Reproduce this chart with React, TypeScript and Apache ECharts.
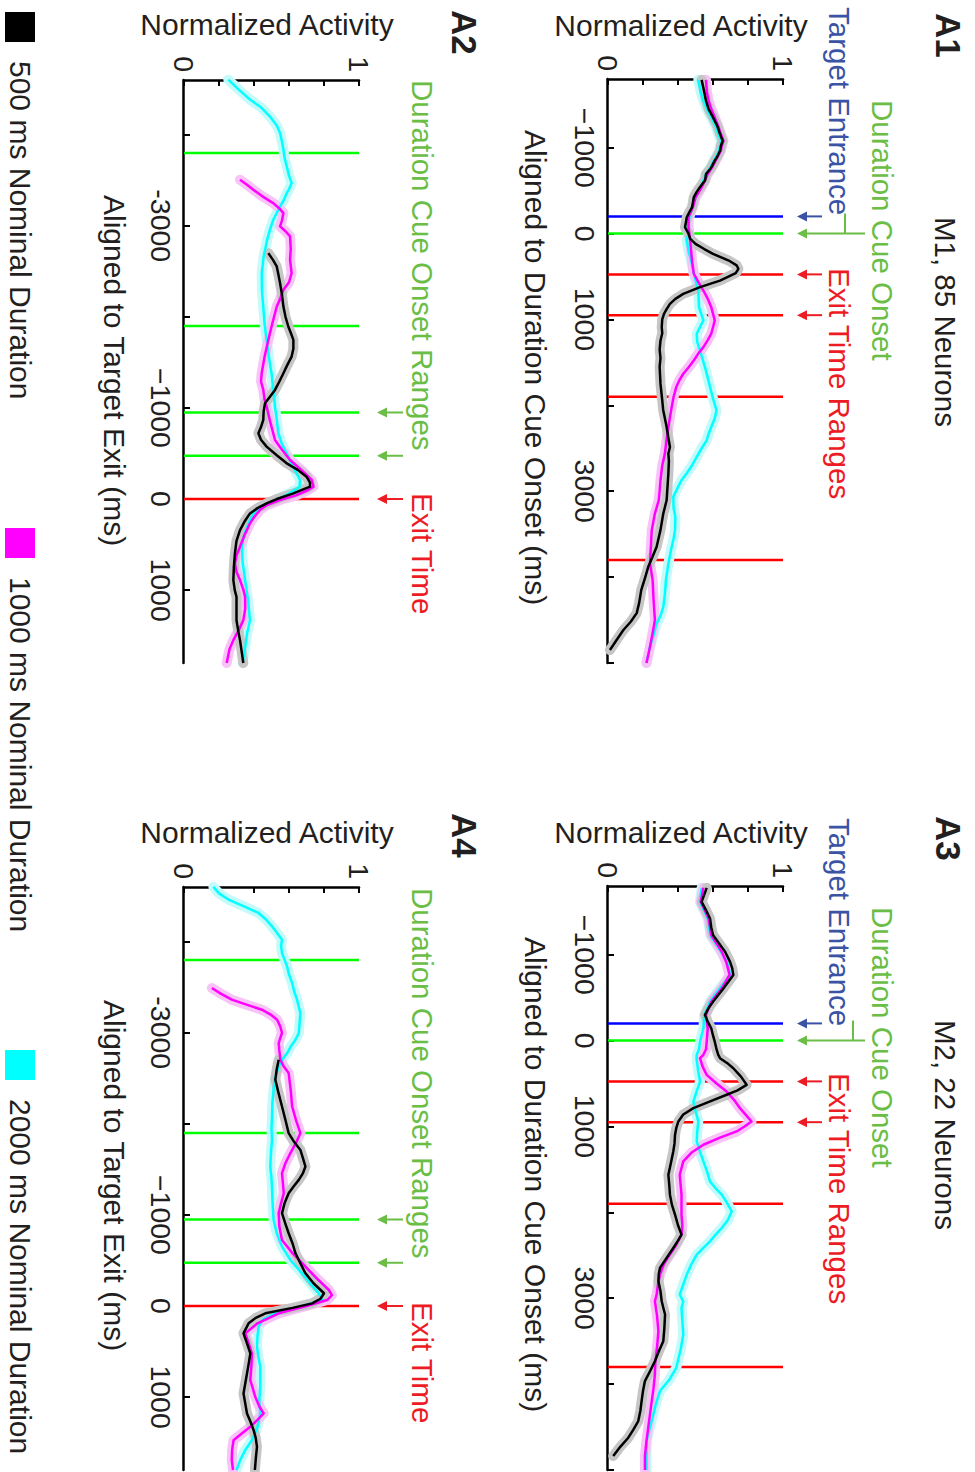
import React, { useEffect, useRef } from 'react';
import * as echarts from 'echarts';

type P = [number, number][];

// ---------- data ----------
const SERIES_NAMES = ['500 ms Nominal Duration', '1000 ms Nominal Duration', '2000 ms Nominal Duration'];

const CUE_TICKS = [-1000, 0, 1000, 2000, 3000, 4000, 5000];
const CUE_LABELS = [-1000, 0, 1000, 3000];
const EXIT_TICKS = [-4000, -3000, -2000, -1000, 0, 1000];
const EXIT_LABELS = [-3000, -1000, 0, 1000];
const ACTIVITY_TICKS_LABELS = [0, 1];

const TARGET_ENTRANCE = [-200];
const CUE_ONSET = [0];
const EXIT_RANGES = [475, 950, 1900, 3800];
const CUE_ONSET_RANGES = [-3800, -1900, -950, -475];
const CUE_ONSET_ARROWS = [-950, -475];
const EXIT_TIME = [0];

const A1_BLACK: P = [[-1790,0.535],[-1650,0.55],[-1547,0.56],[-1450,0.575],[-1353,0.6],[-1250,0.625],[-1159,0.64],[-1081,0.655],[-1020,0.645],[-965,0.64],[-900,0.625],[-849,0.61],[-771,0.59],[-730,0.575],[-694,0.56],[-620,0.555],[-539,0.525],[-480,0.505],[-422,0.49],[-360,0.485],[-306,0.48],[-250,0.465],[-190,0.45],[-130,0.445],[-74,0.44],[0,0.46],[62,0.47],[120,0.5],[180,0.55],[236,0.6],[314,0.69],[370,0.735],[410,0.745],[460,0.73],[547,0.64],[624,0.526],[702,0.43],[760,0.385],[818,0.354],[880,0.335],[934,0.32],[1000,0.31],[1089,0.307],[1160,0.31],[1244,0.3],[1350,0.295],[1450,0.3],[1550,0.295],[1632,0.297],[1750,0.3],[1850,0.305],[1942,0.31],[2050,0.315],[2150,0.325],[2252,0.335],[2380,0.345],[2484,0.354],[2560,0.345],[2650,0.348],[2791,0.345],[2950,0.34],[3105,0.335],[3260,0.316],[3450,0.3],[3647,0.278],[3760,0.255],[3880,0.23],[4020,0.21],[4151,0.19],[4300,0.178],[4419,0.164],[4520,0.13],[4616,0.088],[4730,0.05],[4849,0.011]];
const A1_MAGENTA: P = [[-1790,0.56],[-1650,0.565],[-1547,0.575],[-1450,0.59],[-1353,0.61],[-1250,0.63],[-1159,0.645],[-1081,0.66],[-1020,0.65],[-965,0.645],[-849,0.615],[-771,0.595],[-694,0.57],[-600,0.55],[-539,0.535],[-422,0.5],[-306,0.485],[-190,0.46],[-74,0.46],[0,0.465],[81,0.47],[200,0.475],[314,0.48],[465,0.49],[560,0.515],[663,0.545],[760,0.57],[857,0.59],[1011,0.61],[1090,0.6],[1166,0.59],[1240,0.57],[1322,0.545],[1400,0.515],[1477,0.49],[1560,0.46],[1632,0.43],[1700,0.41],[1787,0.39],[1900,0.375],[2020,0.364],[2130,0.355],[2252,0.345],[2400,0.335],[2562,0.325],[2700,0.31],[2872,0.3],[3000,0.295],[3105,0.29],[3260,0.268],[3453,0.25],[3650,0.245],[3840,0.24],[4035,0.255],[4250,0.26],[4500,0.268],[4650,0.255],[4810,0.24],[5000,0.22]];
const A1_CYAN: P = [[-1790,0.516],[-1650,0.53],[-1547,0.545],[-1450,0.565],[-1353,0.59],[-1250,0.615],[-1159,0.63],[-1081,0.645],[-965,0.635],[-849,0.605],[-771,0.585],[-694,0.56],[-539,0.53],[-422,0.5],[-306,0.48],[-190,0.465],[-74,0.455],[0,0.46],[81,0.45],[200,0.46],[314,0.475],[465,0.49],[663,0.516],[857,0.52],[1011,0.545],[1090,0.525],[1166,0.507],[1260,0.51],[1360,0.526],[1460,0.54],[1554,0.554],[1680,0.57],[1787,0.583],[1920,0.6],[2058,0.62],[2150,0.61],[2252,0.59],[2330,0.575],[2407,0.564],[2500,0.535],[2601,0.507],[2700,0.48],[2791,0.45],[2872,0.42],[2950,0.4],[3066,0.373],[3200,0.375],[3300,0.385],[3453,0.383],[3550,0.375],[3647,0.364],[3740,0.355],[3840,0.345],[4035,0.331],[4200,0.325],[4345,0.316],[4450,0.3],[4539,0.278],[4680,0.26],[4810,0.24],[5000,0.22]];

const A2_BLACK: P = [[-2700,0.482],[-2620,0.51],[-2553,0.53],[-2460,0.54],[-2370,0.549],[-2240,0.56],[-2113,0.568],[-2000,0.58],[-1894,0.596],[-1800,0.615],[-1747,0.625],[-1650,0.625],[-1564,0.615],[-1470,0.59],[-1381,0.568],[-1290,0.545],[-1198,0.52],[-1120,0.49],[-1051,0.463],[-960,0.455],[-868,0.453],[-790,0.44],[-722,0.425],[-650,0.44],[-575,0.472],[-480,0.53],[-392,0.587],[-320,0.65],[-245,0.7],[-180,0.72],[-136,0.72],[-62,0.625],[0,0.53],[48,0.472],[100,0.42],[158,0.377],[250,0.345],[341,0.32],[460,0.3],[597,0.291],[744,0.285],[890,0.282],[1000,0.29],[1074,0.3],[1200,0.3],[1330,0.3],[1450,0.31],[1549,0.32],[1680,0.33],[1800,0.339]];
const A2_MAGENTA: P = [[-3505,0.32],[-3450,0.36],[-3396,0.396],[-3320,0.45],[-3249,0.51],[-3190,0.545],[-3139,0.568],[-3060,0.56],[-2993,0.549],[-2940,0.58],[-2883,0.606],[-2750,0.61],[-2626,0.606],[-2480,0.615],[-2380,0.6],[-2297,0.568],[-2200,0.55],[-2113,0.53],[-1930,0.505],[-1747,0.482],[-1560,0.46],[-1381,0.444],[-1290,0.44],[-1198,0.453],[-1100,0.46],[-1015,0.472],[-830,0.495],[-648,0.52],[-540,0.56],[-429,0.606],[-320,0.67],[-209,0.73],[-136,0.74],[-99,0.71],[-40,0.64],[11,0.549],[70,0.47],[121,0.434],[200,0.4],[267,0.377],[400,0.345],[524,0.32],[620,0.3],[707,0.291],[800,0.3],[890,0.32],[1000,0.34],[1074,0.349],[1200,0.35],[1330,0.339],[1450,0.31],[1549,0.282],[1650,0.26],[1800,0.244]];
const A2_CYAN: P = [[-4604,0.253],[-4500,0.31],[-4385,0.377],[-4300,0.44],[-4201,0.49],[-4100,0.53],[-4018,0.549],[-3920,0.56],[-3835,0.568],[-3740,0.575],[-3652,0.587],[-3550,0.6],[-3469,0.615],[-3400,0.6],[-3359,0.587],[-3280,0.57],[-3212,0.549],[-3140,0.53],[-3066,0.51],[-2950,0.49],[-2846,0.475],[-2750,0.465],[-2663,0.455],[-2570,0.45],[-2480,0.444],[-2300,0.445],[-2113,0.453],[-1930,0.46],[-1747,0.472],[-1560,0.485],[-1381,0.5],[-1200,0.51],[-1015,0.52],[-870,0.53],[-722,0.539],[-600,0.56],[-465,0.596],[-330,0.63],[-209,0.663],[-130,0.66],[-62,0.6],[11,0.53],[84,0.434],[150,0.4],[231,0.377],[380,0.345],[524,0.33],[700,0.335],[890,0.349],[1100,0.365],[1330,0.377],[1480,0.36],[1623,0.35],[1800,0.335]];

const A3_BLACK: P = [[-1779,0.564],[-1700,0.55],[-1616,0.535],[-1520,0.56],[-1422,0.583],[-1320,0.59],[-1229,0.6],[-1130,0.635],[-1035,0.669],[-919,0.697],[-840,0.71],[-764,0.716],[-690,0.69],[-608,0.66],[-530,0.63],[-453,0.6],[-380,0.575],[-299,0.554],[-220,0.57],[-143,0.59],[-60,0.6],[12,0.61],[100,0.62],[166,0.63],[205,0.64],[260,0.68],[322,0.716],[420,0.76],[515,0.792],[580,0.74],[631,0.678],[710,0.58],[787,0.488],[860,0.43],[942,0.402],[1020,0.39],[1097,0.383],[1200,0.38],[1291,0.373],[1420,0.36],[1562,0.345],[1680,0.35],[1794,0.354],[1910,0.365],[2027,0.383],[2150,0.4],[2260,0.42],[2330,0.4],[2415,0.373],[2530,0.335],[2647,0.297],[2720,0.29],[2802,0.288],[2920,0.3],[3035,0.307],[3110,0.316],[3190,0.326],[3350,0.322],[3500,0.316],[3620,0.29],[3733,0.268],[3850,0.24],[3965,0.211],[4080,0.2],[4198,0.192],[4310,0.185],[4430,0.173],[4530,0.145],[4624,0.116],[4730,0.07],[4837,0.03]];
const A3_MAGENTA: P = [[-1779,0.545],[-1616,0.53],[-1422,0.575],[-1229,0.59],[-1035,0.65],[-919,0.675],[-764,0.695],[-608,0.65],[-453,0.59],[-299,0.56],[-143,0.57],[12,0.564],[100,0.56],[166,0.545],[205,0.526],[300,0.54],[399,0.564],[500,0.62],[593,0.678],[690,0.72],[787,0.754],[870,0.79],[942,0.82],[1000,0.78],[1058,0.735],[1130,0.64],[1213,0.545],[1300,0.48],[1407,0.43],[1562,0.41],[1680,0.415],[1794,0.42],[1910,0.42],[2027,0.42],[2150,0.425],[2260,0.42],[2380,0.39],[2492,0.354],[2600,0.32],[2725,0.297],[2850,0.285],[2957,0.278],[3035,0.268],[3200,0.28],[3384,0.288],[3578,0.28],[3750,0.27],[3888,0.268],[4050,0.26],[4198,0.25],[4350,0.24],[4500,0.23],[4660,0.22],[4837,0.211],[5000,0.211]];
const A3_CYAN: P = [[-1779,0.535],[-1616,0.525],[-1422,0.57],[-1229,0.585],[-1035,0.645],[-919,0.68],[-764,0.7],[-608,0.64],[-453,0.583],[-299,0.55],[-143,0.545],[12,0.526],[100,0.52],[166,0.507],[228,0.507],[350,0.515],[477,0.526],[600,0.505],[709,0.488],[820,0.5],[942,0.516],[1058,0.51],[1174,0.507],[1290,0.525],[1407,0.545],[1520,0.565],[1640,0.583],[1720,0.615],[1794,0.65],[1890,0.68],[1988,0.707],[2090,0.685],[2182,0.65],[2260,0.615],[2337,0.583],[2415,0.545],[2492,0.507],[2610,0.475],[2725,0.45],[2840,0.43],[2957,0.41],[3040,0.43],[3112,0.42],[3270,0.425],[3422,0.43],[3600,0.415],[3810,0.39],[3950,0.35],[4081,0.297],[4220,0.275],[4353,0.259],[4500,0.24],[4663,0.22],[4837,0.22],[5000,0.22]];

const A4_BLACK: P = [[-2703,0.541],[-2600,0.53],[-2484,0.522],[-2340,0.54],[-2190,0.56],[-2040,0.58],[-1898,0.598],[-1800,0.63],[-1714,0.665],[-1620,0.68],[-1531,0.694],[-1460,0.68],[-1385,0.656],[-1310,0.625],[-1238,0.598],[-1130,0.575],[-1019,0.56],[-900,0.58],[-799,0.598],[-690,0.62],[-579,0.637],[-470,0.665],[-359,0.694],[-250,0.74],[-140,0.8],[-80,0.78],[-29,0.732],[20,0.62],[80,0.465],[130,0.41],[190,0.369],[300,0.34],[410,0.36],[520,0.379],[630,0.37],[740,0.36],[850,0.35],[960,0.34],[1070,0.35],[1179,0.36],[1270,0.38],[1363,0.398],[1450,0.41],[1546,0.417],[1680,0.41],[1800,0.405]];
const A4_MAGENTA: P = [[-3491,0.159],[-3430,0.21],[-3363,0.273],[-3300,0.37],[-3253,0.445],[-3200,0.495],[-3143,0.532],[-3070,0.55],[-2997,0.56],[-2940,0.55],[-2887,0.541],[-2800,0.545],[-2703,0.551],[-2630,0.57],[-2557,0.598],[-2370,0.61],[-2190,0.618],[-2040,0.64],[-1898,0.665],[-1790,0.64],[-1678,0.608],[-1570,0.58],[-1458,0.56],[-1350,0.565],[-1238,0.57],[-1130,0.555],[-1019,0.541],[-870,0.545],[-725,0.56],[-580,0.62],[-432,0.694],[-300,0.76],[-176,0.828],[-120,0.845],[-66,0.818],[0,0.7],[80,0.541],[190,0.42],[300,0.35],[410,0.37],[520,0.388],[660,0.385],[813,0.379],[996,0.407],[1100,0.43],[1179,0.455],[1250,0.42],[1326,0.379],[1400,0.33],[1473,0.283],[1580,0.275],[1692,0.273],[1800,0.28]];
const A4_CYAN: P = [[-4601,0.168],[-4530,0.2],[-4462,0.254],[-4390,0.34],[-4315,0.426],[-4240,0.47],[-4168,0.503],[-4100,0.53],[-4022,0.56],[-3950,0.555],[-3876,0.56],[-3800,0.575],[-3729,0.589],[-3640,0.6],[-3546,0.618],[-3450,0.63],[-3363,0.646],[-3290,0.655],[-3216,0.665],[-3100,0.66],[-2997,0.656],[-2923,0.637],[-2850,0.61],[-2777,0.589],[-2700,0.56],[-2630,0.541],[-2500,0.52],[-2374,0.512],[-2230,0.505],[-2081,0.503],[-1950,0.5],[-1824,0.503],[-1680,0.497],[-1531,0.493],[-1400,0.5],[-1275,0.503],[-1100,0.507],[-945,0.512],[-800,0.53],[-652,0.56],[-500,0.61],[-359,0.675],[-250,0.72],[-140,0.77],[-66,0.79],[0,0.68],[80,0.522],[150,0.45],[227,0.426],[330,0.42],[447,0.417],[560,0.425],[667,0.436],[886,0.436],[1050,0.43],[1179,0.436],[1330,0.42],[1473,0.388],[1580,0.35],[1692,0.321],[1800,0.3]];

// ---------- styling / layout ----------
const FONT = 'Liberation Sans, Arial, Helvetica, sans-serif';
const INK = '#231f20';
const LINE_COLORS = ['#000000', '#ff00ff', '#00ffff'];
const HALO_COLORS = ['#c6c6c6', '#f8c4f8', '#c4fafa'];
const EV_BLUE = '#0000ff', EV_GREEN = '#00ff00', EV_RED = '#ff0000';
const TX_BLUE = '#3a53a4', TX_GREEN = '#6abd45', TX_RED = '#ed1c24';

const minusFmt = (v: number) => (v < 0 ? '\u2212' + Math.abs(v) : String(v));
const exitFmt = (v: number) => (v === -3000 ? '-3000' : v < 0 ? '\u2212' + Math.abs(v) : String(v));

interface Panel {
  grid: { left: number; top: number; width: number; height: number };
  min: number; max: number; ticks: number[]; labels: number[]; fmt: (v: number) => string;
  curves: P[]; events: { t: number; c: string }[];
}

const panels: Panel[] = [
  { grid: { left: 79, top: 192, width: 584, height: 175 }, min: -1800, max: 5000, ticks: CUE_TICKS, labels: CUE_LABELS, fmt: minusFmt,
    curves: [A1_BLACK, A1_MAGENTA, A1_CYAN],
    events: [...TARGET_ENTRANCE.map(t => ({ t, c: EV_BLUE })), ...CUE_ONSET.map(t => ({ t, c: EV_GREEN })), ...EXIT_RANGES.map(t => ({ t, c: EV_RED }))] },
  { grid: { left: 886, top: 192, width: 584, height: 175 }, min: -1800, max: 5000, ticks: CUE_TICKS, labels: CUE_LABELS, fmt: minusFmt,
    curves: [A3_BLACK, A3_MAGENTA, A3_CYAN],
    events: [...TARGET_ENTRANCE.map(t => ({ t, c: EV_BLUE })), ...CUE_ONSET.map(t => ({ t, c: EV_GREEN })), ...EXIT_RANGES.map(t => ({ t, c: EV_RED }))] },
  { grid: { left: 80, top: 616, width: 583, height: 175 }, min: -4600, max: 1800, ticks: EXIT_TICKS, labels: EXIT_LABELS, fmt: exitFmt,
    curves: [A2_BLACK, A2_MAGENTA, A2_CYAN],
    events: [...CUE_ONSET_RANGES.map(t => ({ t, c: EV_GREEN })), ...EXIT_TIME.map(t => ({ t, c: EV_RED }))] },
  { grid: { left: 887, top: 616, width: 583, height: 175 }, min: -4600, max: 1800, ticks: EXIT_TICKS, labels: EXIT_LABELS, fmt: exitFmt,
    curves: [A4_BLACK, A4_MAGENTA, A4_CYAN],
    events: [...CUE_ONSET_RANGES.map(t => ({ t, c: EV_GREEN })), ...EXIT_TIME.map(t => ({ t, c: EV_RED }))] },
];

function buildOption(): any {
  const series: any[] = [];
  panels.forEach((p, i) => {
    p.events.forEach(ev => {
      series.push({ type: 'line', xAxisIndex: i, yAxisIndex: i, data: [[ev.t, 0], [ev.t, 1]], symbol: 'none', silent: true, z: 1,
        lineStyle: { color: ev.c, width: 2.5 } });
    });
    [2, 1, 0].forEach(c => {
      series.push({ type: 'line', name: 'halo' + c, xAxisIndex: i, yAxisIndex: i, data: p.curves[c], symbol: 'none', silent: true, z: 2,
        lineStyle: { color: HALO_COLORS[c], width: 10, join: 'round', cap: 'round' } });
    });
    [2, 1, 0].forEach(c => {
      series.push({ type: 'line', name: SERIES_NAMES[c], xAxisIndex: i, yAxisIndex: i, data: p.curves[c], symbol: 'none', silent: true, z: 3,
        itemStyle: { color: LINE_COLORS[c] }, lineStyle: { color: LINE_COLORS[c], width: 2.5, join: 'round' } });
    });
  });
  const legendLeft = [12, 528, 1050];
  return {
    animation: false,
    backgroundColor: '#ffffff',
    textStyle: { fontFamily: FONT },
    grid: panels.map(p => ({ ...p.grid, containLabel: false })),
    xAxis: panels.map((p, i) => ({
      type: 'value', gridIndex: i, min: p.min, max: p.max,
      axisLine: { show: true, onZero: false, lineStyle: { color: '#000', width: 2.5 } },
      axisTick: { show: true, inside: true, length: 6, customValues: p.ticks, lineStyle: { color: '#000', width: 2 } },
      axisLabel: { show: true, customValues: p.labels, formatter: p.fmt, fontSize: 28.5, color: INK, margin: 9, fontFamily: FONT },
      splitLine: { show: false },
    })),
    yAxis: panels.map((p, i) => ({
      type: 'value', gridIndex: i, min: 0, max: 1, interval: 0.2,
      axisLine: { show: true, onZero: false, lineStyle: { color: '#000', width: 2.5 } },
      axisTick: { show: true, inside: true, length: 6, lineStyle: { color: '#000', width: 2 } },
      axisLabel: { show: true, fontSize: 28.5, color: INK, margin: 8, fontFamily: FONT,
        formatter: (v: number) => (ACTIVITY_TICKS_LABELS.some(k => Math.abs(k - v) < 1e-6) ? String(Math.round(v)) : '') },
      splitLine: { show: false },
    })),
    legend: SERIES_NAMES.map((n, i) => ({
      data: [n], left: legendLeft[i], top: 940, padding: 0, orient: 'horizontal', icon: 'rect', itemWidth: 30, itemHeight: 30,
      selectedMode: false, textStyle: { fontSize: 30, color: INK, fontFamily: FONT, padding: [0, 0, 0, 14] },
    })),
    series,
  };
}

function txt(text: string, x: number, y: number, fill: string, size: number, opt: { bold?: boolean; rot?: number; align?: string } = {}) {
  return {
    type: 'text', x, y, rotation: opt.rot || 0, silent: true,
    style: { text, fill, fontSize: size, fontFamily: FONT, fontWeight: opt.bold ? 'bold' : 'normal',
      align: opt.align || 'left', verticalAlign: 'middle', textAlign: opt.align || 'left', textVerticalAlign: 'middle' },
  };
}

function arrow(x: number, yTail: number, yHead: number, color: string) {
  return [
    { type: 'line', silent: true, shape: { x1: x, y1: yTail, x2: x, y2: yHead - 6 }, style: { stroke: color, lineWidth: 2 } },
    { type: 'polygon', silent: true, shape: { points: [[x - 5, yHead - 10], [x + 5, yHead - 10], [x, yHead]] }, style: { fill: color } },
  ];
}

function buildGraphics(chart: echarts.ECharts): any[] {
  const px = (i: number, t: number) => chart.convertToPixel({ xAxisIndex: i } as any, t) as number;
  const g: any[] = [];
  const R = Math.PI / 2;
  // A1 / A3 (top row)
  const top = [
    { i: 0, letter: 'A1', lx: 13, neur: 'M1, 85 Neurons', nx: 217, cueX: 100, teX: 7, exX: 268, naX: 25, axX: 130, gy: 130 },
    { i: 1, letter: 'A3', lx: 816, neur: 'M2, 22 Neurons', nx: 1020, cueX: 907, teX: 818, exX: 1073, naX: 832, axX: 937, gy: 122 },
  ];
  top.forEach(c => {
    g.push(txt(c.letter, c.lx, 27, INK, 35, { bold: true }));
    g.push(txt(c.neur, c.nx, 30, INK, 29.5));
    g.push(txt('Duration Cue Onset', c.cueX, 93, TX_GREEN, 29.5));
    g.push(txt('Target Entrance', c.teX, 136, TX_BLUE, 29.5));
    g.push(txt('Exit Time Ranges', c.exX, 136, TX_RED, 29.5));
    g.push(txt('Normalized Activity', c.naX, 294, INK, 30, { rot: R, align: 'center' }));
    g.push(txt('Aligned to Duration Cue Onset (ms)', c.axX, 440, INK, 30));
    TARGET_ENTRANCE.forEach(t => g.push(...arrow(px(c.i, t), 153, 178, TX_BLUE)));
    CUE_ONSET.forEach(t => {
      const x = px(c.i, t);
      g.push(...arrow(x, 110, 178, TX_GREEN));
      g.push({ type: 'line', silent: true, shape: { x1: x - 20, y1: c.gy, x2: x, y2: c.gy }, style: { stroke: TX_GREEN, lineWidth: 2 } });
    });
    EXIT_RANGES.slice(0, 2).forEach(t => g.push(...arrow(px(c.i, t), 153, 178, TX_RED)));
  });
  // A2 / A4 (bottom row)
  const bot = [
    { i: 2, letter: 'A2', lx: 10, cueX: 80, exX: 493, naX: 24, axX: 195 },
    { i: 3, letter: 'A4', lx: 813, cueX: 888, exX: 1302, naX: 832, axX: 1000 },
  ];
  bot.forEach(c => {
    g.push(txt(c.letter, c.lx, 511, INK, 35, { bold: true }));
    g.push(txt('Duration Cue Onset Ranges', c.cueX, 553, TX_GREEN, 29.5));
    g.push(txt('Exit Time', c.exX, 553, TX_RED, 29.5));
    g.push(txt('Normalized Activity', c.naX, 708, INK, 30, { rot: R, align: 'center' }));
    g.push(txt('Aligned to Target Exit (ms)', c.axX, 861, INK, 30));
    CUE_ONSET_ARROWS.forEach(t => g.push(...arrow(px(c.i, t), 572, 598, TX_GREEN)));
    EXIT_TIME.forEach(t => g.push(...arrow(px(c.i, t), 572, 598, TX_RED)));
  });
  return g;
}

export default function App() {
  const ref = useRef<HTMLDivElement>(null);
  useEffect(() => {
    document.body.style.margin = '0';
    const chart = echarts.init(ref.current!, undefined, { renderer: 'svg', width: 1472, height: 975 });
    chart.setOption(buildOption());
    chart.setOption({ graphic: buildGraphics(chart) });
    return () => chart.dispose();
  }, []);
  return (
    <div style={{ position: 'relative', width: 975, height: 1472, overflow: 'hidden', background: '#fff' }}>
      <div
        ref={ref}
        style={{ position: 'absolute', left: 0, top: 0, width: 1472, height: 975, transformOrigin: '0 0', transform: 'translate(975px, 0px) rotate(90deg)' }}
      />
    </div>
  );
}
